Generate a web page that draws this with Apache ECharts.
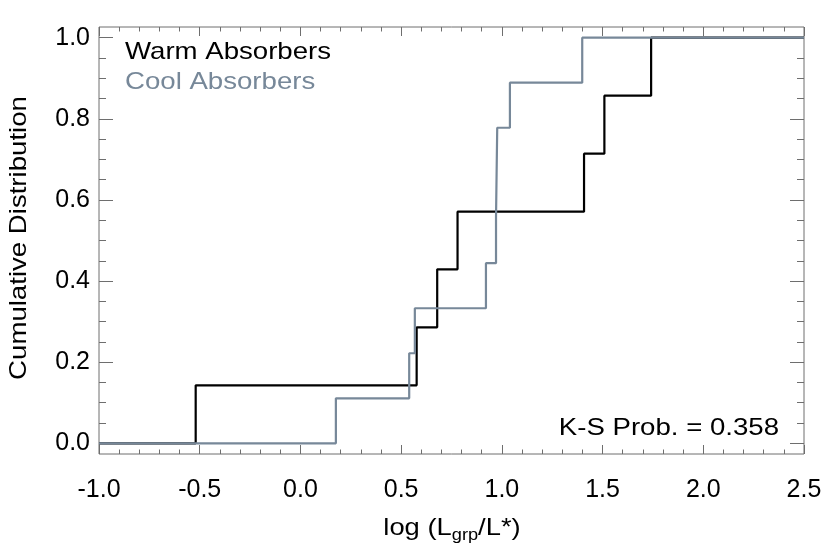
<!DOCTYPE html>
<html>
<head>
<meta charset="utf-8">
<script src="https://cdn.jsdelivr.net/npm/echarts@6/dist/echarts.min.js"></script>
<style>
html,body{margin:0;padding:0;background:#fff;}
#chart{width:830px;height:554px;}
</style>
</head>
<body>
<div id="chart"></div>
<script>
// ---- data ----
var warmX = [-1.0, -0.52, 0.577, 0.679, 0.780, 1.408, 1.509, 1.741, 2.5];
var warmY = [0.0, 0.143, 0.286, 0.429, 0.571, 0.714, 0.857, 1.0, 1.0];
var coolX = [-1.0, 0.176, 0.540, 0.568, 0.921, 0.971, 0.977, 1.040, 1.399, 2.5];
var coolY = [0.0, 0.111, 0.222, 0.333, 0.444, 0.556, 0.778, 0.889, 1.0, 1.0];
var xTicks = [-1.0, -0.5, 0.0, 0.5, 1.0, 1.5, 2.0, 2.5];
var yTicks = [0.0, 0.2, 0.4, 0.6, 0.8, 1.0];
var seriesNames = ['Warm Absorbers', 'Cool Absorbers'];
var ksText = 'K-S Prob. = 0.358';

var FONT = 'Liberation Sans, Arial, Helvetica, sans-serif';
var FRAME = '#6e6e6e';
var WARM = '#000000';
var COOL = '#778899';

function pairs(xs, ys) {
  var out = [];
  for (var i = 0; i < xs.length; i++) out.push([xs[i], ys[i]]);
  return out;
}

var chart = echarts.init(document.getElementById('chart'), null, {renderer: 'canvas'});
var L = 99, R = 26;
var noLine = {show: false, onZero: false};
var option = {
  animation: false,
  backgroundColor: '#ffffff',
  grid: [
    {left: L, right: R, top: 27, bottom: 100, show: true, borderColor: FRAME, borderWidth: 1, backgroundColor: 'transparent'},
    {left: L, right: R, top: 37.7, bottom: 554 - 443.3, show: false}
  ],
  xAxis: [
    {
      gridIndex: 0, type: 'value', position: 'bottom', min: xTicks[0], max: xTicks[xTicks.length - 1], interval: 0.5,
      axisLine: noLine,
      axisTick: {show: true, inside: true, length: 9, lineStyle: {color: FRAME, width: 1}},
      minorTick: {show: true, splitNumber: 5, length: 4.5, lineStyle: {color: FRAME, width: 1}},
      splitLine: {show: false},
      axisLabel: {show: true, margin: 24, color: '#000', fontSize: 25, fontFamily: FONT,
        formatter: function (v) { return v.toFixed(1); }}
    },
    {
      gridIndex: 0, type: 'value', position: 'top', min: xTicks[0], max: xTicks[xTicks.length - 1], interval: 0.5,
      axisLine: noLine,
      axisTick: {show: true, inside: true, length: 9, lineStyle: {color: FRAME, width: 1}},
      minorTick: {show: true, splitNumber: 5, length: 4.5, lineStyle: {color: FRAME, width: 1}},
      splitLine: {show: false},
      axisLabel: {show: false}
    },
    {
      gridIndex: 1, type: 'value', min: xTicks[0], max: xTicks[xTicks.length - 1], show: false, axisLine: noLine
    }
  ],
  yAxis: [
    {gridIndex: 0, type: 'value', min: -0.026, max: 1.026, show: false, axisLine: noLine},
    {
      gridIndex: 1, type: 'value', position: 'left', min: yTicks[0], max: yTicks[yTicks.length - 1], interval: 0.2,
      axisLine: noLine,
      axisTick: {show: true, inside: true, length: 14, lineStyle: {color: FRAME, width: 1}},
      minorTick: {show: true, splitNumber: 4, length: 7, lineStyle: {color: FRAME, width: 1}},
      splitLine: {show: false},
      axisLabel: {show: true, margin: 9, color: '#000', fontSize: 25, fontFamily: FONT,
        formatter: function (v) { return v.toFixed(1); }}
    },
    {
      gridIndex: 1, type: 'value', position: 'right', min: yTicks[0], max: yTicks[yTicks.length - 1], interval: 0.2,
      axisLine: noLine,
      axisTick: {show: true, inside: true, length: 14, lineStyle: {color: FRAME, width: 1}},
      minorTick: {show: true, splitNumber: 4, length: 7, lineStyle: {color: FRAME, width: 1}},
      splitLine: {show: false},
      axisLabel: {show: false}
    }
  ],
  series: [
    {
      name: seriesNames[0], type: 'line', xAxisIndex: 2, yAxisIndex: 1, step: 'end',
      data: pairs(warmX, warmY), showSymbol: false, symbol: 'none', clip: false,
      lineStyle: {color: WARM, width: 2.2}, z: 3
    },
    {
      name: seriesNames[1], type: 'line', xAxisIndex: 2, yAxisIndex: 1, step: 'end',
      data: pairs(coolX, coolY), showSymbol: false, symbol: 'none', clip: false,
      lineStyle: {color: COOL, width: 2.2}, z: 4
    }
  ],
  graphic: [
    {type: 'text', left: 125, top: 40, scaleX: 1.15, z: 10,
      style: {text: seriesNames[0], fill: WARM, font: '24px ' + FONT}},
    {type: 'text', left: 125, top: 70, scaleX: 1.15, z: 10,
      style: {text: seriesNames[1], fill: COOL, font: '24px ' + FONT}},
    {type: 'text', x: 779, y: 428, scaleX: 1.15, z: 10,
      style: {text: ksText, fill: '#000', font: '24px ' + FONT, align: 'right', verticalAlign: 'middle'}},
    {type: 'text', x: 19, y: 238, rotation: Math.PI / 2, scaleX: 1.15, z: 10,
      style: {text: 'Cumulative Distribution', fill: '#000', font: '24px ' + FONT, align: 'center', verticalAlign: 'middle'}},
    {type: 'text', x: 452, y: 530, scaleX: 1.14, z: 10,
      style: {
        text: '{a|log (L}{s|grp}{a|/L*)}', align: 'center', verticalAlign: 'middle', fill: '#000',
        rich: {
          a: {fontSize: 24, fontFamily: FONT, lineHeight: 28, verticalAlign: 'top', fill: '#000'},
          s: {fontSize: 16, fontFamily: FONT, lineHeight: 16, padding: [12, 0, 0, 0], fill: '#000'}
        }
      }}
  ]
};
chart.setOption(option);
</script>
</body>
</html>
